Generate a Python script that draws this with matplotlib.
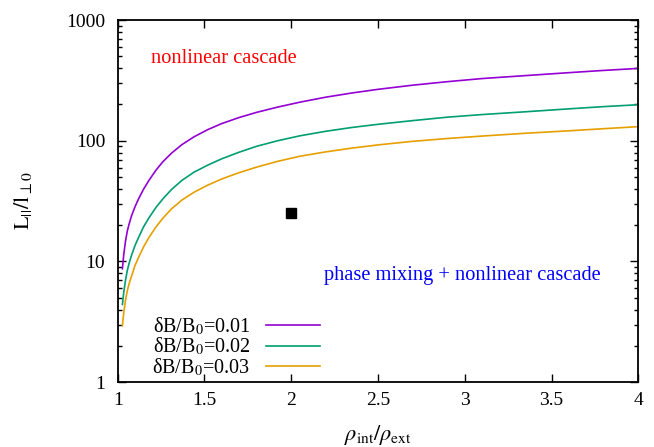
import matplotlib

matplotlib.use("Agg")
import matplotlib.pyplot as plt
import matplotlib.ticker as mtick

plt.rcParams["font.family"] = ["Liberation Serif", "DejaVu Serif"]
plt.rcParams["mathtext.fontset"] = "stix"
plt.rcParams["font.size"] = 14

################################################################################
## Data

rho = [1.027, 1.035, 1.045, 1.055, 1.065, 1.08, 1.10, 1.12, 1.15, 1.18,
       1.22, 1.26, 1.31, 1.37, 1.44, 1.52, 1.60, 1.70, 1.80, 1.92,
       2.05, 2.20, 2.35, 2.50, 2.70, 2.90, 3.10, 3.35, 3.60, 3.80, 4.00]

L_001 = [8.7, 11.5, 14.8, 17.8, 20.3, 24, 28.5, 33, 40, 47,
         57, 67, 79, 93, 108, 124, 139, 156, 172, 190,
         209, 230, 249, 267, 289, 309, 328, 347, 367, 383, 398]
L_002 = [4.4, 5.6, 7.0, 8.4, 9.6, 11.3, 13.6, 15.8, 19.5, 23,
         28, 33, 39.5, 47, 55, 63, 71, 80.5, 90, 100,
         110, 120, 129, 137, 147, 157, 165, 174, 184, 192, 199]
L_003 = [2.94, 3.8, 4.8, 5.7, 6.5, 7.6, 9.3, 10.8, 13.3, 15.8,
         19.3, 22.8, 27.3, 32.3, 37.5, 43, 48.3, 54.5, 60.5, 67.5,
         74.5, 81, 87, 92.5, 99, 104.5, 109.5, 115.5, 121, 126, 131]

labels = ["δB/B$_0$=0.01", "δB/B$_0$=0.02", "δB/B$_0$=0.03"]
colors = ["#9400D3", "#009E73", "#E69F00"]

point_x = [2.0]
point_y = [25]

xticks = [1, 1.5, 2, 2.5, 3, 3.5, 4]
yticks = [1, 10, 100, 1000]

################################################################################
## Plot

fig = plt.figure(figsize=(6.54, 4.47), dpi=100)
ax = fig.add_axes([0.180, 0.145, 0.796, 0.810])

for ys, lab, c in zip([L_001, L_002, L_003], labels, colors):
    ax.plot(rho, ys, color=c, lw=1.2, label=lab)

ax.plot(point_x, point_y, "s", color="black", ms=6.5, label="_nolegend_")

ax.set_yscale("log")
ax.set_xlim(1, 4)
ax.set_ylim(1, 1000)
ax.set_xticks(xticks, labels=["1", "1.5", "2", "2.5", "3", "3.5", "4"])
ax.set_yticks(yticks, labels=["1", "10", "100", "1000"])
ax.yaxis.set_minor_locator(mtick.LogLocator(base=10, subs=range(2, 10)))
ax.yaxis.set_minor_formatter(mtick.NullFormatter())

ax.tick_params(axis="both", which="major", direction="in", length=6, width=1,
               top=True, right=True, labelsize=14)
ax.tick_params(axis="x", which="major", pad=7)
ax.tick_params(axis="y", which="major", pad=9)
ax.tick_params(axis="y", which="minor", direction="in", length=3, width=1,
               right=True)
ax.tick_params(axis="x", which="minor", bottom=False, top=False)
for s in ax.spines.values():
    s.set_linewidth(1.3)

ax.text(1.19, 480, "nonlinear cascade", color="red", fontsize=14.7,
        ha="left", va="center")
ax.text(2.19, 7.7, "phase mixing + nonlinear cascade", color="blue",
        fontsize=14.7, ha="left", va="center")

ax.set_xlabel(r"$\rho_{\mathrm{int}}/\rho_{\mathrm{ext}}$", fontsize=16, labelpad=10)
ax.set_ylabel(r"$\mathrm{L}_{||}/\mathrm{l}_{\perp 0}$", fontsize=16, labelpad=23)

ax.legend(loc="lower left", bbox_to_anchor=(0.051, -0.012), frameon=False,
          markerfirst=False, handlelength=2.65, handletextpad=0.8,
          labelspacing=-0.05, borderaxespad=0.0, fontsize=14.5)

fig.savefig("out.png", dpi=100)
